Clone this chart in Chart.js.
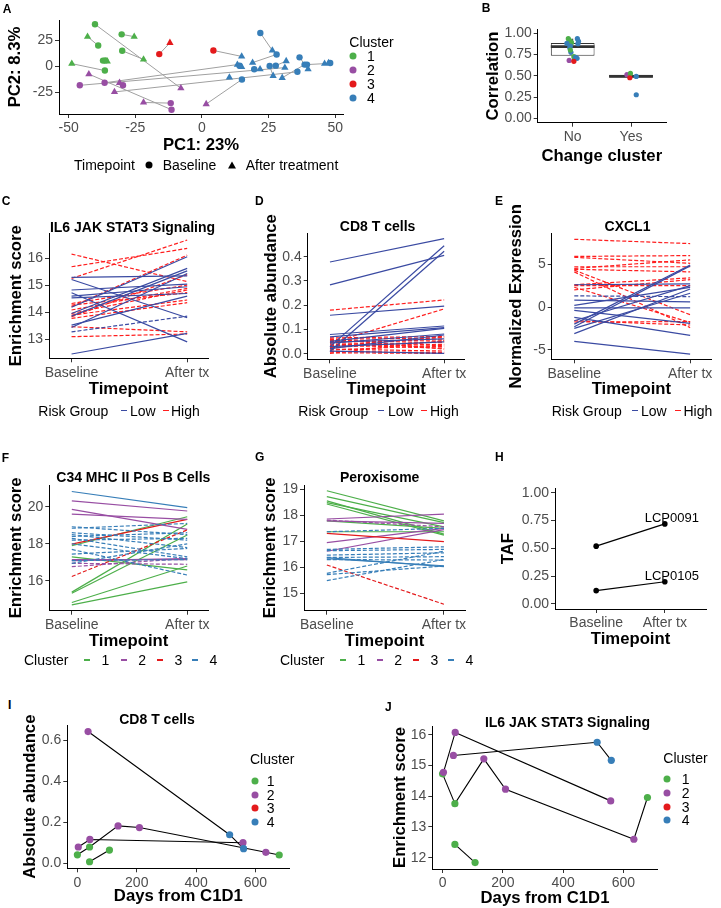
<!DOCTYPE html>
<html><head><meta charset="utf-8">
<script src="https://cdn.jsdelivr.net/npm/chart.js@4.4.0/dist/chart.umd.min.js"></script>
<style>
html,body{margin:0;padding:0;background:#fff;}
#root{position:relative;width:721px;height:908px;overflow:hidden;font-family:'Liberation Sans',Arial,sans-serif;}
canvas{position:absolute;}
.t{position:absolute;white-space:nowrap;line-height:1;color:#000;}
.lbl{font-size:12px;font-weight:bold;}
.ttl{font-size:14px;font-weight:bold;transform:translate(-50%,-50%);}
.leg{font-size:14px;transform:translateY(-50%);}
.key{position:absolute;height:1.6px;width:6px;}
.dot{position:absolute;width:7px;height:7px;border-radius:50%;transform:translate(-50%,-50%);}
.tri{position:absolute;width:0;height:0;border-left:4px solid transparent;border-right:4px solid transparent;border-bottom:7px solid #000;transform:translate(-50%,-50%);}
</style></head><body><div id="root"></div>
<script>
// ---------------- DATA ----------------
// Panel A: PCA
const pcaPC1 = [-40.1,-42.9,-38.9,-30.1,-25.4,-29.9,-21.9,-48.8,-36.4,-37.1,-35.5,-36.2,
  -16.0,-12.0,4.3,
  -42.4,-11.4,-45.8,-36.5,-30.9,-29.6,-32.8,-7.9,-21.9,-11.7,1.6,
  21.9,26.4,28.0,19.0,14.9,13.3,14.9,14.1,19.6,21.8,25.4,26.7,27.7,31.6,36.6,39.8,38.5,30.1,39.4,46.0,31.1,35.8,15.0,10.3,48.1,47.5];
const pcaPC2 = [40.1,28.3,19.8,30.5,28.3,14.8,6.6,2.5,-4.1,5.4,4.7,5.6,
  11.6,22.4,15.1,
  -7.5,-41.5,-18.2,-15.8,-15.8,-18.2,-24.5,-21.0,-34.6,-35.2,-36.1,
  31.8,15.1,11.3,3.5,9.4,1.6,-0.6,0.6,-2.8,-2.8,0.3,-9.1,0.6,5.0,8.5,-2.8,1.6,-11.0,1.6,2.5,-1.3,-5.3,-12.6,-10.7,3.1,3.1];
const pcaCluster = [1,1,1,1,1,1,1,1,1,1,1,1,
  3,3,3,
  2,2,2,2,2,2,2,2,2,2,2,
  4,4,4,4,4,4,4,4,4,4,4,4,4,4,4,4,4,4,4,4,4,4,4,4,4,4];
const pcaTimepoint = ['B','A','B','B','A','B','A','A','B','B','A','B',
  'B','A','B',
  'A','B','B','B','A','B','A','A','A','B','A',
  'B','A','B','A','A','A','A','B','B','A','B','A','B','A','B','A','B','A','B','A','A','B','B','A','B','A'];
const pcaPatient = [1,2,2,3,3,4,4,5,5,6,6,27,
  7,7,8,
  9,9,10,11,12,12,13,1,14,14,15,
  16,16,17,17,8,11,18,18,19,19,20,20,21,21,22,22,23,23,24,24,10,13,15,25,26,26];

// Panel B: correlation box plot
const bCategories = ['No','Yes'];
const bQ1 = [0.736, 0.482];
const bMedian = [0.843, 0.494];
const bQ3 = [0.886, 0.514];
const bWhiskerLow = [0.671, 0.478];
const bWhiskerHigh = [0.937, 0.529];
const bPointGroup = [1,1,1,1,1,1,1,1,1,1,1,1,1,1,1,1, 2,2,2,2,2];
const bPointValue = [0.937,0.914,0.890,0.937,0.906,0.878,0.882,0.851,0.831,0.776,0.804,0.725,0.706,0.718,0.682,0.671, 0.514,0.529,0.478,0.494,0.278];
const bPointCluster = [1,1,1,4,4,4,4,4,4,4,1,1,4,4,2,3, 2,1,3,4,4];
const bPointJitter = [-0.075,-0.05,-0.02,0.08,0.10,0.09,-0.10,-0.04,-0.05,-0.03,-0.04,0.02,0.075,0.05,-0.06,0.02, -0.07,-0.01,-0.02,0.09,0.09];

// Shared timepoint labels
const timepoints = ['Baseline','After tx'];

// Panel C: IL6 JAK STAT3 Signaling
const cBaseline = [15.30,15.22,14.83,14.73,14.60,14.54,14.19,13.96,13.86,13.53,13.44,12.46,13.28,
  16.16,15.69,15.26,14.33,14.27,14.21,14.09,13.96,13.90,13.84,13.78,13.47,13.10];
const cAfter = [15.35,13.80,15.05,12.91,14.95,14.70,16.06,15.63,15.54,14.60,15.44,13.22,13.86,
  15.14,16.37,16.68,15.01,14.73,16.12,14.89,14.83,14.46,15.40,14.36,13.28,13.20];
const cRisk = ['Low','Low','Low','Low','Low','Low','Low','Low','Low','Low','Low','Low','Low',
  'High','High','High','High','High','High','High','High','High','High','High','High','High'];
const cDashed = [0,0,0,0,0,0,0,0,0,0,0,0,1, 1,1,1,1,1,1,1,1,1,1,1,1,1];

// Panel D: CD8 T cells
const dBaseline = [0.378,0.284,0.159,0.030,0.010,0.080,0.070,0.052,0.044,0.048,0.030,0.012,0.022,
  0.180,0.045,0.066,0.060,0.056,0.050,0.046,0.040,0.036,0.032,0.026,0.020,0.016,0.010,0.005,0.002,0.062];
const dAfter = [0.474,0.405,0.197,0.445,0.422,0.115,0.108,0.105,0.082,0.062,0.050,0.002,0.078,
  0.222,0.185,0.072,0.066,0.046,0.058,0.038,0.030,0.024,0.070,0.052,0.012,0.036,0.006,0.002,0.055,0.020];
const dRisk = ['Low','Low','Low','Low','Low','Low','Low','Low','Low','Low','Low','Low','Low',
  'High','High','High','High','High','High','High','High','High','High','High','High','High','High','High','High','High'];
const dDashed = [0,0,0,0,0,0,0,0,0,0,0,0,0, 1,1,1,1,1,1,1,1,1,1,1,1,1,1,1,1,1];

// Panel E: CXCL1
const eBaseline = [2.6,0.8,0.2,-0.1,-0.4,-1.2,-1.6,-2.0,-2.3,-2.5,-3.1,-4.0,1.3,
  7.9,5.9,5.8,4.7,4.5,4.4,4.3,4.1,2.6,2.5,2.3,2.0,-1.6,-1.75];
const eAfter = [2.7,0.6,2.3,-0.1,-1.9,-3.3,2.5,4.9,4.8,1.6,2.1,-5.5,1.2,
  7.4,6.0,5.1,4.7,5.5,4.1,-0.9,-2.4,3.4,2.5,-1.8,3.2,-2.1,-1.7];
const eRisk = ['Low','Low','Low','Low','Low','Low','Low','Low','Low','Low','Low','Low','Low',
  'High','High','High','High','High','High','High','High','High','High','High','High','High','High'];
const eDashed = [0,0,0,0,0,0,0,0,0,0,0,0,1, 1,1,1,1,1,1,1,1,1,1,1,1,1,1];

// Panel F: C34 MHC II Pos B Cells
const fBaseline = [18.92,18.84,18.60,18.50,18.40,18.30,18.20,18.00,17.70,17.45,17.10,16.95,
  16.77,16.95, 16.24,
  20.82, 20.32,19.86,19.60,17.10,17.15, 17.99,
  17.90,17.30,15.40,15.34,14.84,14.71];
const fAfter = [18.50,19.10,18.20,17.80,18.60,17.30,18.30,17.20,16.32,17.75,17.15,18.00,
  17.22,16.90, 18.75,
  19.95, 19.77,18.78,19.32,17.20,17.15, 19.32,
  19.46,16.60,19.07,18.48,16.81,15.95];
const fCluster = [4,4,4,4,4,4,4,4,4,4,4,4, 2,2, 3, 4, 2,2,2,2,2, 3, 1,1,1,1,1,1];
const fDashed = [1,1,1,1,1,1,1,1,1,1,1,1, 1,1, 1, 0, 0,0,0,0,0, 0, 0,0,0,0,0,0];

// Panel G: Peroxisome
const gBaseline = [17.37,16.69,16.64,16.47,16.38,16.30,15.77,15.72,15.49, 16.37,16.33,
  16.09, 17.31, 17.82, 17.86,17.79,16.95,16.62,
  18.95,18.72,18.56,18.49,18.44,17.79,17.37];
const gAfter = [17.50,16.79,16.69,16.56,16.41,16.28,16.62,16.05,16.30, 16.03,16.06,
  14.58, 16.99, 17.56, 18.05,17.69,17.50,17.45,
  17.79,17.72,17.28,17.56,17.24,17.50,17.37];
const gCluster = [4,4,4,4,4,4,4,4,4, 4,4, 3, 3, 2, 2,2,2,2, 1,1,1,1,1,1,1];
const gDashed = [1,1,1,1,1,1,1,1,1, 0,0, 1, 0, 1, 0,0,0,0, 0,0,0,0,0,0,0];

// Panel H: TAF
const tafSamples = ['LCP0091','LCP0105'];
const tafBaseline = [0.52, 0.12];
const tafAfter = [0.72, 0.20];

// Panels I & J: longitudinal
const lonPatient = ['A','A','A','A','A','A','B','B','B','C','C','C','D','D'];
const lonDays = [0,41,137,209,635,680, 3,42,558, 36,513,560, 41,108];
const lonCD8 = [0.042,0.080,0.183,0.175,0.054,0.041, 0.080,0.117,0.101, 0.644,0.140,0.072, 0.008,0.065];
const lonIL6 = [14.73,13.76,15.22,14.23,12.60,13.96, 14.78,16.08,13.85, 15.33,15.76,15.17, 12.43,11.84];
const lonCluster = [1,1,2,2,2,1, 2,2,2, 2,4,4, 1,1];

// ---------------- STYLE ----------------
const FF = "'Liberation Sans', Arial, sans-serif";
const CLUSTER_COLORS = ['#4DAF4A','#984EA3','#E41A1C','#377EB8'];
const RISK_COLORS = {Low:'#3A4AA2', High:'#FF1E1E'};
const TICK_COLOR = '#4D4D4D';
const TITLE_SIZE = 16.7, TICK_SIZE = 14;
const DASH = [4,2];
const BOX_WIDTH = 0.75;

const root = document.getElementById('root');
function addText(cls, x, y, text) {
  const d = document.createElement('div');
  d.className = 't ' + cls; d.textContent = text;
  d.style.left = x + 'px'; d.style.top = y + 'px';
  root.appendChild(d); return d;
}
function addKey(x, y, color) {
  const d = document.createElement('div'); d.className = 'key';
  d.style.left = x + 'px'; d.style.top = (y - 0.8) + 'px'; d.style.background = color;
  root.appendChild(d);
}
function addDot(x, y, color) {
  const d = document.createElement('div'); d.className = 'dot';
  d.style.left = x + 'px'; d.style.top = y + 'px'; d.style.background = color;
  root.appendChild(d);
}
function addTri(x, y) {
  const d = document.createElement('div'); d.className = 'tri';
  d.style.left = x + 'px'; d.style.top = y + 'px';
  root.appendChild(d);
}

function panel(box, cfg) {
  const x0 = Math.floor(box.yTitleX - 12), y0 = Math.floor(box.T - 48);
  const x1 = Math.ceil(box.R + 14), y1 = Math.ceil(box.xTitleY + 30);
  const cv = document.createElement('canvas');
  cv.width = x1 - x0; cv.height = y1 - y0;
  cv.style.left = x0 + 'px'; cv.style.top = y0 + 'px';
  root.appendChild(cv);
  const lh = TITLE_SIZE * 1.2;
  const xH = y1 - box.B, yW = box.L - x0;
  function axis(o, isX) {
    return {
      type: 'linear', min: o.min, max: o.max, offset: false,
      border: {display: true, color: '#000', width: 1},
      grid: {display: true, drawOnChartArea: false, drawTicks: true, tickLength: 4, color: '#333', offset: false},
      ticks: {color: TICK_COLOR, font: {family: FF, size: TICK_SIZE}, padding: 2, autoSkip: false, maxRotation: 0, minRotation: 0,
        callback: o.fmt || (v => String(v))},
      title: {display: true, text: o.title, color: '#000', font: {family: FF, size: TITLE_SIZE, weight: 'bold'},
        padding: isX ? {top: 0, bottom: y1 - box.xTitleY - lh / 2} : {top: box.yTitleX - x0 - lh / 2, bottom: 0}},
      afterBuildTicks: s => { s.ticks = o.ticks.map(v => ({value: v})); },
      afterFit: s => { if (isX) s.height = xH; else s.width = yW; }
    };
  }
  return new Chart(cv, {
    type: cfg.type || 'scatter',
    data: {datasets: cfg.datasets},
    options: {
      responsive: false, animation: false, devicePixelRatio: 1, events: [],
      layout: {padding: {left: 0, top: box.T - y0, right: x1 - box.R, bottom: 0}},
      plugins: {legend: {display: false}, tooltip: {enabled: false}},
      scales: {x: axis(cfg.x, true), y: axis(cfg.y, false)}
    },
    plugins: cfg.plugins || []
  });
}

function seg(x0, y0, x1, y1, color, width, dash, order) {
  return {type: 'line', data: [{x: x0, y: y0}, {x: x1, y: y1}], borderColor: color, borderWidth: width,
    borderDash: dash || [], pointRadius: 0, showLine: true, fill: false, order: order || 1};
}
const timeFmt = v => v === 1 ? timepoints[0] : v === 2 ? timepoints[1] : '';
const fix = n => v => v.toFixed(n);

// ---------------- PANEL A ----------------
(function () {
  const ds = [];
  const pats = [...new Set(pcaPatient)];
  pats.forEach(p => {
    const idx = pcaPatient.map((q, i) => q === p ? i : -1).filter(i => i >= 0);
    if (idx.length < 2) return;
    ds.push({type: 'line', data: idx.map(i => ({x: pcaPC1[i], y: pcaPC2[i]})), borderColor: '#A0A0A0', borderWidth: 1,
      pointRadius: 0, showLine: true, fill: false, order: 2});
  });
  ds.push({type: 'scatter', data: pcaPC1.map((x, i) => ({x, y: pcaPC2[i]})),
    pointStyle: pcaTimepoint.map(t => t === 'B' ? 'circle' : 'triangle'),
    pointRadius: pcaTimepoint.map(t => t === 'B' ? 3.2 : 4.2),
    pointBackgroundColor: pcaCluster.map(c => CLUSTER_COLORS[c - 1]),
    pointBorderWidth: 0, order: 1});
  panel({L: 59, T: 20, R: 343, B: 114, yTitleX: 15, xTitleY: 145}, {
    datasets: ds,
    x: {min: -53.6, max: 52.9, ticks: [-50, -25, 0, 25, 50], title: 'PC1: 23%'},
    y: {min: -45.6, max: 44.2, ticks: [-25, 0, 25], title: 'PC2: 8.3%'}
  });
})();

// ---------------- PANEL B ----------------
(function () {
  const ds = [];
  ds.push({type: 'bar', data: bCategories.map((c, i) => ({x: i + 1, y: [bQ1[i], bQ3[i]]})),
    backgroundColor: '#FFFFFF', borderColor: '#333333', borderWidth: 1, borderSkipped: false,
    barPercentage: BOX_WIDTH, categoryPercentage: 1, order: 5});
  bCategories.forEach((c, i) => {
    ds.push(seg(i + 1, bQ3[i], i + 1, bWhiskerHigh[i], '#333', 1, [], 6));
    ds.push(seg(i + 1, bWhiskerLow[i], i + 1, bQ1[i], '#333', 1, [], 6));
    ds.push(seg(i + 1 - BOX_WIDTH / 2, bMedian[i], i + 1 + BOX_WIDTH / 2, bMedian[i], '#333', 2.6, [], 4));
  });
  ds.push({type: 'scatter', data: bPointValue.map((v, i) => ({x: bPointGroup[i] + bPointJitter[i], y: v})),
    pointRadius: 2.6, pointBorderWidth: 0, pointBackgroundColor: bPointCluster.map(c => CLUSTER_COLORS[c - 1]), order: 1});
  panel({L: 537.7, T: 29.3, R: 666, B: 122.7, yTitleX: 493.3, xTitleY: 156.7}, {
    type: 'bar', datasets: ds,
    x: {min: 0.4, max: 2.6, ticks: [1, 2], title: 'Change cluster', fmt: v => bCategories[v - 1] || ''},
    y: {min: -0.05, max: 1.047, ticks: [0, 0.25, 0.5, 0.75, 1], title: 'Correlation', fmt: fix(2)}
  });
})();

// ---------------- PANELS C, D, E ----------------
function riskPanel(box, base, after, risk, dashed, yOpt) {
  const ds = [];
  ['Low', 'High'].forEach(g => {
    base.forEach((b, i) => {
      if (risk[i] !== g) return;
      ds.push(seg(1, b, 2, after[i], RISK_COLORS[g], 1.2, dashed[i] ? DASH : [], 1));
    });
  });
  panel(box, {datasets: ds,
    x: {min: 0.805, max: 2.18, ticks: [1, 2], title: 'Timepoint', fmt: timeFmt},
    y: yOpt});
}
riskPanel({L: 49, T: 233.3, R: 208, B: 358.3, yTitleX: 16.7, xTitleY: 389.3}, cBaseline, cAfter, cRisk, cDashed,
  {min: 12.30, max: 16.93, ticks: [13, 14, 15, 16], title: 'Enrichment score'});
riskPanel({L: 307.7, T: 233.3, R: 464.7, B: 359.3, yTitleX: 271.7, xTitleY: 389.3}, dBaseline, dAfter, dRisk, dDashed,
  {min: -0.022, max: 0.496, ticks: [0, 0.1, 0.2, 0.3, 0.4], title: 'Absolute abundance', fmt: fix(1)});
riskPanel({L: 551.7, T: 233.3, R: 711, B: 359.3, yTitleX: 516.7, xTitleY: 389.3}, eBaseline, eAfter, eRisk, eDashed,
  {min: -6.1, max: 8.6, ticks: [-5, 0, 5], title: 'Normalized Expression'});

// ---------------- PANELS F, G ----------------
function clusterPanel(box, base, after, cluster, dashed, yOpt) {
  const ds = base.map((b, i) => seg(1, b, 2, after[i], CLUSTER_COLORS[cluster[i] - 1], 1.2, dashed[i] ? DASH : [], 1));
  panel(box, {datasets: ds,
    x: {min: 0.805, max: 2.18, ticks: [1, 2], title: 'Timepoint', fmt: timeFmt},
    y: yOpt});
}
clusterPanel({L: 49.3, T: 485, R: 208, B: 610.7, yTitleX: 16.7, xTitleY: 641}, fBaseline, fAfter, fCluster, fDashed,
  {min: 14.4, max: 21.17, ticks: [16, 18, 20], title: 'Enrichment score'});
clusterPanel({L: 304, T: 485, R: 465, B: 610.7, yTitleX: 270, xTitleY: 641}, gBaseline, gAfter, gCluster, gDashed,
  {min: 14.33, max: 19.17, ticks: [15, 16, 17, 18, 19], title: 'Enrichment score'});

// ---------------- PANEL H ----------------
(function () {
  const ds = tafSamples.map((s, i) => ({type: 'line', data: [{x: 1, y: tafBaseline[i]}, {x: 2, y: tafAfter[i]}],
    borderColor: '#000', borderWidth: 1.2, pointRadius: 2.8, pointBackgroundColor: '#000', pointBorderWidth: 0,
    showLine: true, fill: false}));
  const labelPlugin = {id: 'tafLabels', afterDatasetsDraw(chart) {
    const ctx = chart.ctx, xs = chart.scales.x, ys = chart.scales.y;
    ctx.save(); ctx.font = '13px ' + FF; ctx.fillStyle = '#000'; ctx.textAlign = 'center'; ctx.textBaseline = 'middle';
    tafSamples.forEach((s, i) => ctx.fillText(s, xs.getPixelForValue(2) + 7, ys.getPixelForValue(tafAfter[i]) - 5));
    ctx.restore();
  }};
  panel({L: 555, T: 488.3, R: 706, B: 609, yTitleX: 508.3, xTitleY: 639.3}, {
    datasets: ds, plugins: [labelPlugin],
    x: {min: 0.4, max: 2.6, ticks: [1, 2], title: 'Timepoint', fmt: timeFmt},
    y: {min: -0.045, max: 1.04, ticks: [0, 0.25, 0.5, 0.75, 1], title: 'TAF', fmt: fix(2)}
  });
})();

// ---------------- PANELS I, J ----------------
function lonPanel(box, values, yOpt) {
  const ds = [];
  [...new Set(lonPatient)].forEach(p => {
    const idx = lonPatient.map((q, i) => q === p ? i : -1).filter(i => i >= 0);
    ds.push({type: 'line', data: idx.map(i => ({x: lonDays[i], y: values[i]})), borderColor: '#000', borderWidth: 1.1,
      pointRadius: 0, showLine: true, fill: false, order: 2});
  });
  ds.push({type: 'scatter', data: lonDays.map((d, i) => ({x: d, y: values[i]})), pointRadius: 3.6, pointBorderWidth: 0,
    pointBackgroundColor: lonCluster.map(c => CLUSTER_COLORS[c - 1]), order: 1});
  panel(box, {datasets: ds,
    x: {min: -34, max: 714, ticks: [0, 200, 400, 600], title: 'Days from C1D1'},
    y: yOpt});
}
lonPanel({L: 67.3, T: 725, R: 289.3, B: 868.3, yTitleX: 30, xTitleY: 896}, lonCD8,
  {min: -0.024, max: 0.676, ticks: [0, 0.2, 0.4, 0.6], title: 'Absolute abundance', fmt: fix(1)});
lonPanel({L: 432.3, T: 726, R: 657.7, B: 869, yTitleX: 400, xTitleY: 898.3}, lonIL6,
  {min: 11.63, max: 16.29, ticks: [12, 13, 14, 15, 16], title: 'Enrichment score'});

// ---------------- TEXT: letters, titles, legends ----------------
[['A', 2.7, 3.4], ['B', 481.7, 1.7], ['C', 1.7, 195], ['D', 255, 195], ['E', 495, 195],
 ['F', 1.7, 451.5], ['G', 255, 450.5], ['H', 495, 450.5], ['I', 8, 698.5], ['J', 385, 701]]
  .forEach(([t, x, y]) => addText('lbl', x, y, t));

[['IL6 JAK STAT3 Signaling', 132.5, 226.7], ['CD8 T cells', 377.6, 226], ['CXCL1', 627.5, 226],
 ['C34 MHC II Pos B Cells', 133.3, 477.3], ['Peroxisome', 379.7, 477], ['CD8 T cells', 157, 719.3],
 ['IL6 JAK STAT3 Signaling', 567.5, 721.7]].forEach(([t, x, y]) => addText('ttl', x, y, t));

// Panel A legends
addText('leg', 349.3, 41.7, 'Cluster');
[56, 70, 84, 98].forEach((y, i) => { addDot(353.3, y, CLUSTER_COLORS[i]); addText('leg', 367, y, String(i + 1)); });
addText('leg', 74, 165, 'Timepoint');
addDot(149, 165, '#000');
addText('leg', 162.7, 165, 'Baseline');
addTri(232, 164.5);
addText('leg', 245.7, 165, 'After treatment');

// Risk group legends (C, D, E)
[[38.3, 121, 130, 162.5, 171], [298.3, 378.3, 388, 421, 430], [551.7, 632, 641, 674.5, 683.5]].forEach(p => {
  const y = 410.7;
  addText('leg', p[0], y, 'Risk Group');
  addKey(p[1], y, RISK_COLORS.Low); addText('leg', p[2], y, 'Low');
  addKey(p[3], y, RISK_COLORS.High); addText('leg', p[4], y, 'High');
});

// Cluster legends (F, G)
[24, 280].forEach(x0 => {
  const y = 660;
  addText('leg', x0, y, 'Cluster');
  [60, 96.7, 133, 168].forEach((dx, i) => {
    addKey(x0 + dx, y, CLUSTER_COLORS[i]);
    addText('leg', x0 + dx + 17.5, y, String(i + 1));
  });
});

// Cluster legends (I, J)
[[250, 759.3, 255, 266.7, [780.7, 794.5, 808.3, 822]], [663.3, 758.3, 667.3, 681.7, [779.3, 792.8, 806.5, 820]]]
  .forEach(([tx, ty, dx, nx, rows]) => {
    addText('leg', tx, ty, 'Cluster');
    rows.forEach((y, i) => { addDot(dx, y, CLUSTER_COLORS[i]); addText('leg', nx, y, String(i + 1)); });
  });
</script></body></html>
